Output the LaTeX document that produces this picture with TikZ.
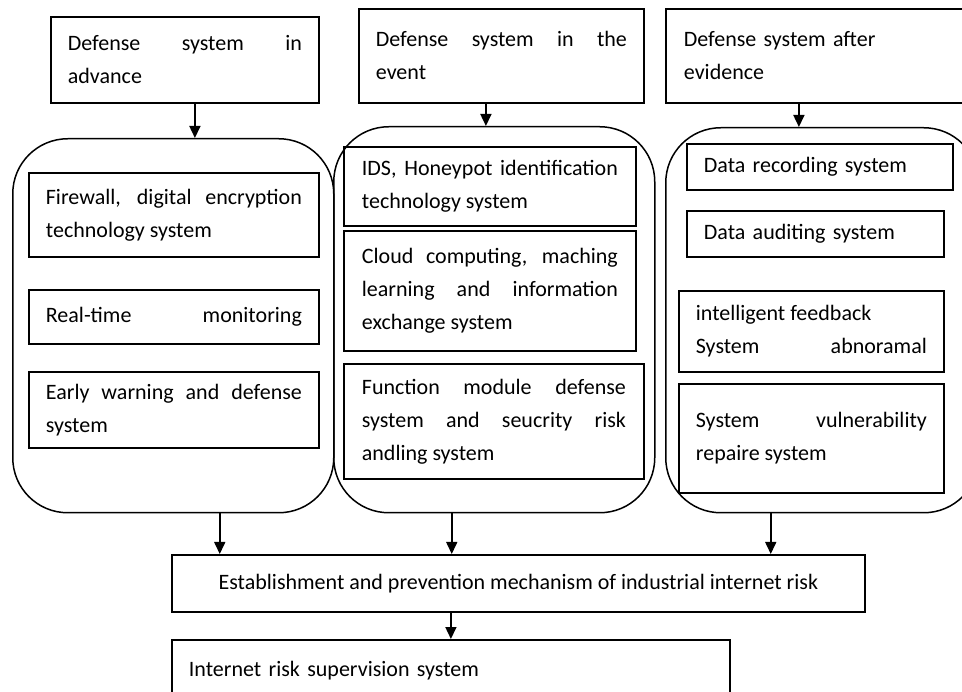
\documentclass[tikz,border=0pt]{standalone}
\usepackage{fontspec}
\setmainfont{Carlito}
\usepackage{tikz}
\usetikzlibrary{arrows.meta,positioning}
\hyphenpenalty=10000
\exhyphenpenalty=10000
\tolerance=9999

\begin{document}
\begin{tikzpicture}[x=1pt,y=-1pt,
	box/.style={draw,line width=1.8pt,inner sep=0pt,anchor=north west,align=justify,
				font=\fontsize{22pt}{33pt}\selectfont},
	grp/.style={draw,line width=1.5pt,rounded corners=55pt,inner sep=0pt,anchor=north west},
	arr/.style={-{Triangle[length=12pt,width=11pt]},line width=1.6pt}]

	\useasboundingbox (0,0) rectangle (962,692);

	% three stages
	\node[box,minimum width=268pt,minimum height=86pt,text width=234pt] (adv) at (50,16) {Defense system in advance};
	\node[box,minimum width=285pt,minimum height=94pt,text width=251pt] (evt) at (358,8) {Defense system in the\linebreak event};
	\node[box,align=left,minimum width=325pt,minimum height=94pt,text width=289pt] (aft) at (665,8) {Defense system after\\evidence};

	\node[grp,minimum width=321pt,minimum height=374pt] (grpA) at (12,138) {};
	\node[grp,minimum width=321pt,minimum height=386pt] (grpB) at (333,126) {};
	\node[grp,minimum width=313pt,minimum height=385pt] (grpC) at (665,127) {};

	\node[box,minimum width=290pt,minimum height=84pt,text width=256pt] (fw) at (28,172) {Firewall, digital encryption technology system};
	\node[box,minimum width=290pt,minimum height=54pt,text width=256pt] (rt) at (28,289) {Real-time\hspace{\fill}monitoring};
	\node[box,minimum width=290pt,minimum height=76pt,text width=256pt] (ew) at (28,371) {Early warning and defense system};

	\node[box,minimum width=292pt,minimum height=79pt,text width=256pt] (ids) at (343,146) {IDS, Honeypot identification technology system};
	\node[box,minimum width=292pt,minimum height=120pt,text width=256pt] (cld) at (343,230) {Cloud computing, maching learning and information exchange system};
	\node[box,minimum width=300pt,minimum height=115pt,text width=264pt] (fnc) at (343,363) {Function module defense system and seucrity risk andling system};

	\node[box,align=left,minimum width=266pt,minimum height=46pt,text width=232pt] (rec) at (686,143) {Data recording system};
	\node[box,align=left,minimum width=257pt,minimum height=46pt,text width=223pt] (aud) at (686,210) {Data auditing system};
	\node[box,minimum width=265pt,minimum height=81pt,text width=231pt] (int) at (678,290) {intelligent feedback\\System\hspace{\fill}abnoramal};
	\node[box,minimum width=265pt,minimum height=109pt,text width=231pt] (vul) at (678,383) {System vulnerability repaire system};

	\node[box,align=center,minimum width=693pt,minimum height=57pt] (est) at (171,554) {Establishment and prevention mechanism of industrial internet risk};
	\node[box,align=left,minimum width=558pt,minimum height=62pt,text width=524pt] (net) at (171,639) {Internet risk supervision system};

	\draw[arr] ([xshift=10]adv.south) -- ([xshift=10]adv.south |- grpA.north);
	\draw[arr] ([xshift=-15.5]evt.south) -- ([xshift=-15.5]evt.south |- grpB.north);
	\draw[arr] ([xshift=-29.5]aft.south) -- ([xshift=-29.5]aft.south |- grpC.north);

	\draw[arr] ([xshift=46.5]grpA.south) -- ([xshift=46.5]grpA.south |- est.north);
	\draw[arr] ([xshift=-42.5]grpB.south) -- ([xshift=-42.5]grpB.south |- est.north);
	\draw[arr] ([xshift=-51.5]grpC.south) -- ([xshift=-51.5]grpC.south |- est.north);
	\draw[arr] (net.north |- est.south) -- (net.north);

\end{tikzpicture}
\end{document}
